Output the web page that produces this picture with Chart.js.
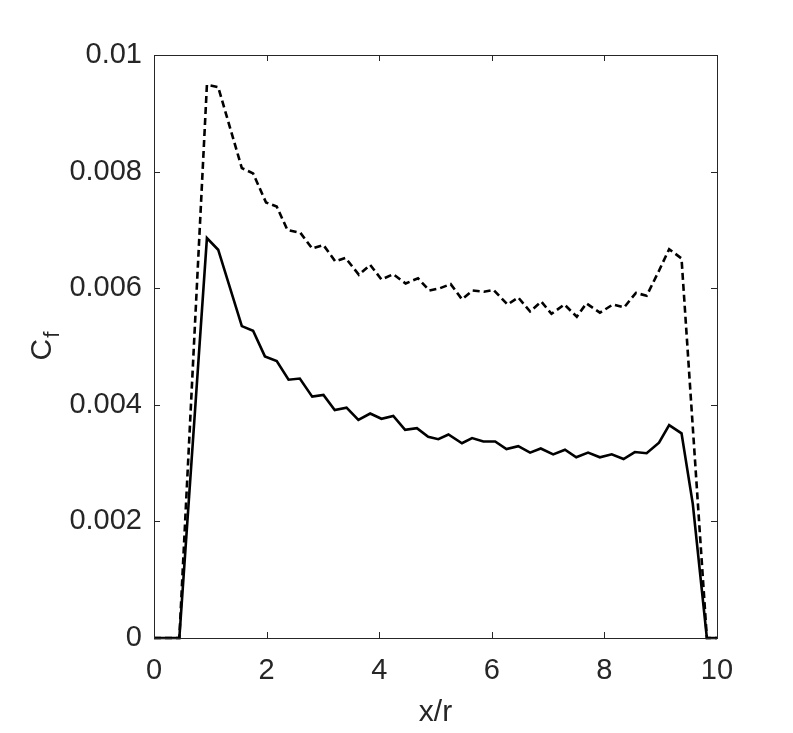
<!DOCTYPE html>
<html>
<head>
<meta charset="utf-8">
<script src="https://cdn.jsdelivr.net/npm/chart.js@4.4.1/dist/chart.umd.min.js"></script>
<style>
  html, body { margin: 0; padding: 0; background: #fff; }
  #wrap { width: 793px; height: 733px; }
</style>
</head>
<body>
<div id="wrap"><canvas id="cf"></canvas></div>
<script>
// solid line (x/r, Cf)
const solidX = [0, 0.45, 0.94, 1.14, 1.56, 1.76, 1.97, 2.18, 2.39, 2.59, 2.81, 3.01, 3.21, 3.42, 3.63, 3.84, 4.04, 4.25, 4.46, 4.67, 4.87, 5.05, 5.23, 5.47, 5.65, 5.85, 6.06, 6.26, 6.47, 6.68, 6.87, 7.09, 7.30, 7.50, 7.71, 7.92, 8.13, 8.34, 8.54, 8.75, 8.97, 9.15, 9.37, 9.57, 9.82, 10];
const solidY = [0, 0, 0.00686, 0.00666, 0.00535, 0.00527, 0.00483, 0.00475, 0.00443, 0.00445, 0.00414, 0.00417, 0.00391, 0.00395, 0.00374, 0.00385, 0.00376, 0.00381, 0.00357, 0.00360, 0.00345, 0.00341, 0.00349, 0.00334, 0.00343, 0.00337, 0.00337, 0.00324, 0.00329, 0.00318, 0.00325, 0.00315, 0.00323, 0.00310, 0.00318, 0.00310, 0.00315, 0.00307, 0.00319, 0.00317, 0.00335, 0.00365, 0.00351, 0.00230, 0, 0];

// dashed line
const dashX = [0, 0.45, 0.94, 1.14, 1.56, 1.76, 1.99, 2.18, 2.37, 2.60, 2.81, 3.01, 3.22, 3.40, 3.64, 3.84, 4.04, 4.25, 4.47, 4.69, 4.89, 5.08, 5.27, 5.47, 5.66, 5.86, 6.03, 6.28, 6.47, 6.68, 6.88, 7.06, 7.29, 7.51, 7.68, 7.92, 8.15, 8.35, 8.56, 8.75, 8.97, 9.15, 9.37, 9.82, 10];
const dashY = [0, 0, 0.00949, 0.00945, 0.00806, 0.00797, 0.00747, 0.00740, 0.00700, 0.00695, 0.00668, 0.00674, 0.00646, 0.00652, 0.00623, 0.00640, 0.00615, 0.00624, 0.00608, 0.00617, 0.00596, 0.00600, 0.00607, 0.00581, 0.00596, 0.00594, 0.00597, 0.00572, 0.00584, 0.00560, 0.00577, 0.00556, 0.00572, 0.00551, 0.00574, 0.00558, 0.00572, 0.00567, 0.00592, 0.00587, 0.00630, 0.00667, 0.00651, 0, 0];

const xTicks = [0, 2, 4, 6, 8, 10];
const yTicks = [0, 0.002, 0.004, 0.006, 0.008, 0.01];

const ink = '#262626';
const font = 'Arial, "Liberation Sans", Helvetica, sans-serif';

function pts(xs, ys) {
  return xs.map((x, i) => ({ x: x, y: ys[i] }));
}

// box, inward ticks and axis titles, matlab style
const frame = {
  id: 'frame',
  afterDraw(chart) {
    const { ctx, chartArea: a, scales } = chart;
    ctx.save();
    ctx.strokeStyle = ink;
    ctx.lineWidth = 1;
    ctx.strokeRect(a.left + 0.5, a.top + 0.5, a.right - a.left, a.bottom - a.top);
    const tl = 6;
    ctx.beginPath();
    xTicks.forEach(v => {
      const px = Math.round(scales.x.getPixelForValue(v)) + 0.5;
      ctx.moveTo(px, a.bottom); ctx.lineTo(px, a.bottom - tl);
      ctx.moveTo(px, a.top); ctx.lineTo(px, a.top + tl);
    });
    yTicks.forEach(v => {
      const py = Math.round(scales.y.getPixelForValue(v)) + 0.5;
      ctx.moveTo(a.left, py); ctx.lineTo(a.left + tl, py);
      ctx.moveTo(a.right, py); ctx.lineTo(a.right - tl, py);
    });
    ctx.stroke();

    ctx.fillStyle = ink;
    ctx.font = '30px ' + font;
    ctx.textAlign = 'center';
    ctx.textBaseline = 'middle';
    ctx.fillText('x/r', (a.left + a.right) / 2, 713);

    ctx.translate(40, (a.top + a.bottom) / 2);
    ctx.rotate(-Math.PI / 2);
    ctx.textAlign = 'left';
    ctx.textBaseline = 'alphabetic';
    const cw = ctx.measureText('C').width;
    ctx.fillText('C', -14, 11);
    ctx.font = '22px ' + font;
    ctx.fillText('f', -14 + cw + 1, 19);
    ctx.restore();
  }
};

new Chart(document.getElementById('cf'), {
  type: 'line',
  data: {
    datasets: [
      {
        data: pts(solidX, solidY),
        borderColor: '#000',
        borderWidth: 2.6,
        pointRadius: 0,
        tension: 0,
        clip: false
      },
      {
        data: pts(dashX, dashY),
        borderColor: '#000',
        borderWidth: 2.6,
        borderDash: [7, 4],
        pointRadius: 0,
        tension: 0,
        clip: false
      }
    ]
  },
  options: {
    responsive: true,
    maintainAspectRatio: false,
    animation: false,
    layout: { padding: { top: 55, right: 76, left: 0, bottom: 0 } },
    plugins: { legend: { display: false }, tooltip: { enabled: false } },
    scales: {
      x: {
        type: 'linear',
        min: 0, max: 10,
        afterFit(s) { s.height = 95; },
        afterBuildTicks(s) { s.ticks = xTicks.map(v => ({ value: v })); },
        grid: { display: false },
        border: { display: false },
        ticks: { color: ink, font: { size: 29, family: font }, padding: 8, maxRotation: 0 }
      },
      y: {
        type: 'linear',
        min: 0, max: 0.01,
        afterFit(s) { s.width = 154; },
        afterBuildTicks(s) { s.ticks = yTicks.map(v => ({ value: v })); },
        grid: { display: false },
        border: { display: false },
        ticks: {
          color: ink, font: { size: 29, family: font }, padding: 4,
          callback: v => String(+v.toFixed(3))
        }
      }
    }
  },
  plugins: [frame]
});
</script>
</body>
</html>
